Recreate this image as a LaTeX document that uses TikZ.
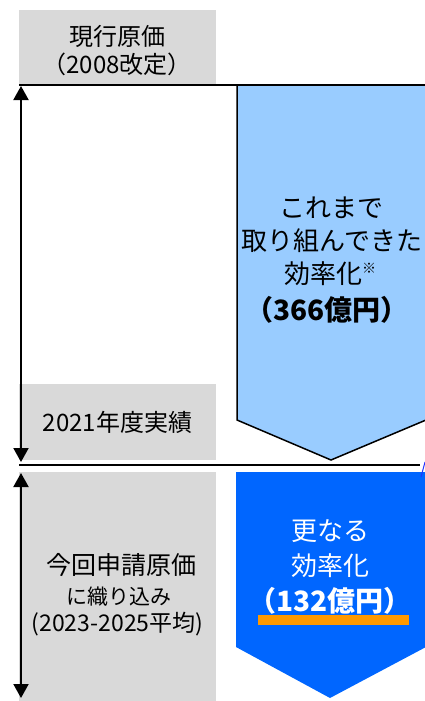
\documentclass[tikz,border=0pt]{standalone}
\usepackage{fontspec}
\setmainfont{Noto Sans CJK JP}
\usetikzlibrary{arrows.meta}
\definecolor{grayfill}{HTML}{D9D9D9}
\definecolor{lightblue}{HTML}{99CCFF}
\definecolor{darkblue}{HTML}{0066FF}
\definecolor{orangebar}{HTML}{FF9900}
\definecolor{edgeblue}{HTML}{2233FF}
\tikzset{
  graybox/.style={fill=grayfill},
  txt/.style={anchor=base, inner sep=0pt, font=\fontsize{24}{24}\selectfont},
  smalltxt/.style={anchor=base, inner sep=0pt, font=\fontsize{21}{21}\selectfont},
  bluetxt/.style={anchor=base, inner sep=0pt, font=\fontsize{26}{26}\selectfont},
  boldtxt/.style={anchor=base, inner sep=0pt, font=\fontsize{28}{28}\selectfont\bfseries},
  whitetxt/.style={bluetxt, text=white},
  dimarrow/.style={line width=2pt, {Triangle[width=15pt,length=14pt]}-{Triangle[width=15pt,length=14pt]}},
}
\begin{document}
\begin{tikzpicture}[x=1pt,y=-1pt]
\useasboundingbox (0,0) rectangle (425,701);
% gray boxes
\fill[graybox] (19,10) rectangle (216,85);
\fill[graybox] (19,384) rectangle (216,460);
\fill[graybox] (19,472) rectangle (216,701);
% light blue pentagon
\fill[lightblue] (237,85) -- (237,420) -- (331,460) -- (426,420) -- (426,85) -- cycle;
\draw[line width=1.5pt, line join=miter] (237,85) -- (237,420) -- (331,460) -- (426,420);
% dark blue pentagon
\fill[darkblue] (236,472) -- (236,647) -- (330,698) -- (426,647) -- (426,472) -- cycle;
\fill[orangebar] (258,615) rectangle (409,625);
% horizontal lines
\coordinate (l1a) at (19,85); \coordinate (l1b) at (425,85);
\coordinate (l2a) at (19,465); \coordinate (l2b) at (420,465);
\draw[line width=1.5pt] (l1a) -- (l1b);
\draw[line width=2pt] (l2a) -- (l2b);
\coordinate (e1) at (421,477); \coordinate (e2) at (425,462);
\draw[edgeblue, line width=1pt] (e1) -- (e2);
% dimension arrows
\coordinate (a1) at (21,86); \coordinate (a2) at (21,462);
\coordinate (b1) at (21,473); \coordinate (b2) at (21,698);
\draw[dimarrow] (a1) -- (a2);
\draw[dimarrow] (b1) -- (b2);
% gray texts
\node[txt] (g1) at (117,46) {現行原価};
\node[txt] (g2) at (117,74) {（2008改定）};
\node[txt] (g3) at (117.5,431) {2021年度実績};
\node[txt, font=\fontsize{25}{25}\selectfont] (g4) at (121,574) {今回申請原価};
\node[smalltxt] (g5) at (119,604) {に織り込み};
\node[smalltxt, font=\fontsize{23}{23}\selectfont] (g6) at (117.5,631) {(2023-2025平均)};
% light blue texts
\node[bluetxt] (t1) at (331,217) {これまで};
\node[bluetxt] (t2) at (332,250) {取り組んできた};
\node[bluetxt] (t3) at (330,283) {効率化\raisebox{0.35em}{\fontsize{14}{14}\selectfont ※}};
\node[boldtxt] (t4) at (327,320) {（366億円）};
% dark blue texts
\node[whitetxt] (w1) at (330,540) {更なる};
\node[whitetxt] (w2) at (330,575) {効率化};
\node[boldtxt, text=white] (w3) at (330,611) {（132億円）};
\end{tikzpicture}
\end{document}
